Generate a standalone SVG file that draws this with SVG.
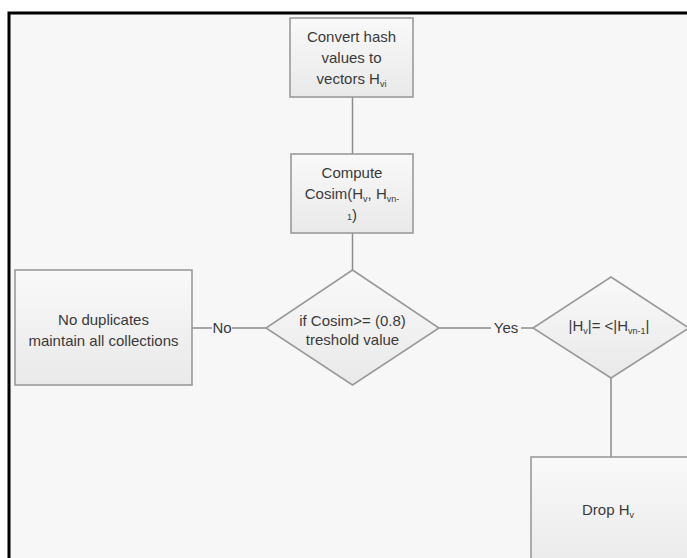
<svg xmlns="http://www.w3.org/2000/svg" width="687" height="558" viewBox="0 0 687 558">
<defs>
<linearGradient id="boxfill" x1="0" y1="0" x2="0" y2="1">
<stop offset="0" stop-color="#f9f9f9"/>
<stop offset="1" stop-color="#e9e9e9"/>
</linearGradient>
<style>
.node{fill:url(#boxfill);stroke:#9a9a9a;stroke-width:1.6}
.conn{stroke:#8c8c8c;stroke-width:1.5;fill:none}
.t{font-family:"Liberation Sans",Arial,sans-serif;font-size:15px;fill:#3a3a3a;text-anchor:middle}
.lbl{font-family:"Liberation Sans",Arial,sans-serif;font-size:15px;fill:#3a3a3a;text-anchor:middle}
.sub{font-size:9px}
</style>
</defs>
<rect x="0" y="0" width="687" height="558" fill="#ffffff"/>
<rect x="9" y="13" width="680" height="550" fill="#f7f7f7"/>
<path d="M9 558 V13 H687" fill="none" stroke="#000" stroke-width="3"/>

<g id="connectors">
<line class="conn" x1="352.5" y1="97" x2="352.5" y2="154"/>
<line class="conn" x1="352.5" y1="233" x2="352.5" y2="270"/>
<line class="conn" x1="192" y1="328" x2="212" y2="328"/>
<line class="conn" x1="232" y1="328" x2="266" y2="328"/>
<text class="lbl" x="222" y="333">No</text>
<line class="conn" x1="439" y1="328" x2="491" y2="328"/>
<line class="conn" x1="521" y1="328" x2="533" y2="328"/>
<text class="lbl" x="506" y="333">Yes</text>
<line class="conn" x1="611" y1="378" x2="611" y2="457"/>
</g>

<g id="convert">
<rect class="node" x="290" y="18" width="123" height="79"/>
<text class="t" x="351.5" y="42">Convert hash</text>
<text class="t" x="351.5" y="63">values to</text>
<text class="t" x="351.5" y="84">vectors H<tspan class="sub" dy="3">vi</tspan></text>
</g>

<g id="compute">
<rect class="node" x="291" y="154" width="122" height="79"/>
<text class="t" x="352" y="178">Compute</text>
<text class="t" x="352" y="199">Cosim(H<tspan class="sub" dy="3">v</tspan><tspan dy="-3">, H</tspan><tspan class="sub" dy="3">vn-</tspan></text>
<text class="t" x="352" y="220"><tspan class="sub">1</tspan>)</text>
</g>

<g id="decision">
<polygon class="node" points="352.5,270 439,328 352.5,385 266,328"/>
<text class="t" x="352.5" y="326">if Cosim&gt;= (0.8)</text>
<text class="t" x="352.5" y="345">treshold value</text>
</g>

<g id="noduplicates">
<rect class="node" x="15" y="270" width="177" height="115"/>
<text class="t" x="103.5" y="325">No duplicates</text>
<text class="t" x="103.5" y="346">maintain all collections</text>
</g>

<g id="compare">
<polygon class="node" points="611,277 689,328 611,378 533,328"/>
<text class="t" x="609" y="331">|H<tspan class="sub" dy="3">v</tspan><tspan dy="-3">|= &lt;|H</tspan><tspan class="sub" dy="3">vn-1</tspan><tspan dy="-3">|</tspan></text>
</g>

<g id="drop">
<rect class="node" x="531" y="457" width="170" height="120"/>
<text class="t" x="608" y="515">Drop H<tspan class="sub" dy="3">v</tspan></text>
</g>
</svg>
